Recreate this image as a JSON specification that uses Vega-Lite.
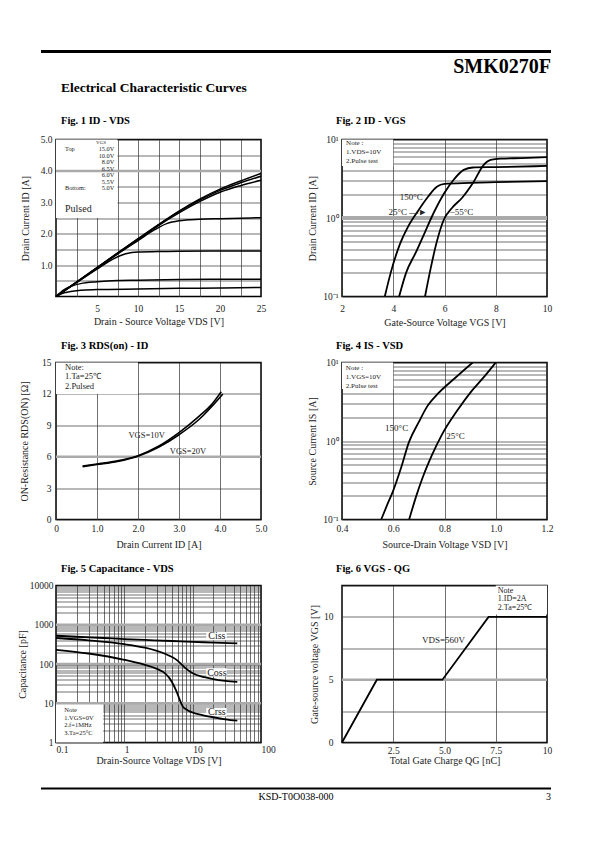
{
  "$schema": "https://vega.github.io/schema/vega-lite/v6.json",
  "background": "white",
  "padding": {"left": 16, "top": 49.5, "right": 10, "bottom": 10},
  "columns": 2,
  "spacing": {"row": 66, "column": 81},
  "bounds": "flush",
  "datasets": {
    "fig1": [
      {"s": "15.0V", "x": 0, "y": 0}, {"s": "15.0V", "x": 2.5, "y": 0.46}, {"s": "15.0V", "x": 5, "y": 0.92}, {"s": "15.0V", "x": 7.5, "y": 1.38}, {"s": "15.0V", "x": 10, "y": 1.84}, {"s": "15.0V", "x": 12.5, "y": 2.29}, {"s": "15.0V", "x": 15, "y": 2.72}, {"s": "15.0V", "x": 17.5, "y": 3.1}, {"s": "15.0V", "x": 20, "y": 3.42}, {"s": "15.0V", "x": 22.5, "y": 3.68}, {"s": "15.0V", "x": 25, "y": 3.92},
      {"s": "10.0V", "x": 0, "y": 0}, {"s": "10.0V", "x": 2.5, "y": 0.46}, {"s": "10.0V", "x": 5, "y": 0.92}, {"s": "10.0V", "x": 7.5, "y": 1.38}, {"s": "10.0V", "x": 10, "y": 1.83}, {"s": "10.0V", "x": 12.5, "y": 2.28}, {"s": "10.0V", "x": 15, "y": 2.7}, {"s": "10.0V", "x": 17.5, "y": 3.07}, {"s": "10.0V", "x": 20, "y": 3.38}, {"s": "10.0V", "x": 22.5, "y": 3.62}, {"s": "10.0V", "x": 25, "y": 3.83},
      {"s": "8.0V", "x": 0, "y": 0}, {"s": "8.0V", "x": 2.5, "y": 0.45}, {"s": "8.0V", "x": 5, "y": 0.91}, {"s": "8.0V", "x": 7.5, "y": 1.37}, {"s": "8.0V", "x": 10, "y": 1.82}, {"s": "8.0V", "x": 12.5, "y": 2.26}, {"s": "8.0V", "x": 15, "y": 2.66}, {"s": "8.0V", "x": 17.5, "y": 3.02}, {"s": "8.0V", "x": 20, "y": 3.32}, {"s": "8.0V", "x": 22.5, "y": 3.53}, {"s": "8.0V", "x": 25, "y": 3.7},
      {"s": "6.5V", "x": 0, "y": 0}, {"s": "6.5V", "x": 2.5, "y": 0.45}, {"s": "6.5V", "x": 5, "y": 0.9}, {"s": "6.5V", "x": 7.5, "y": 1.35}, {"s": "6.5V", "x": 10, "y": 1.78}, {"s": "6.5V", "x": 12, "y": 2.12}, {"s": "6.5V", "x": 13.5, "y": 2.32}, {"s": "6.5V", "x": 15, "y": 2.41}, {"s": "6.5V", "x": 17.5, "y": 2.46}, {"s": "6.5V", "x": 20, "y": 2.48}, {"s": "6.5V", "x": 25, "y": 2.51},
      {"s": "6.0V", "x": 0, "y": 0}, {"s": "6.0V", "x": 2.5, "y": 0.44}, {"s": "6.0V", "x": 5, "y": 0.87}, {"s": "6.0V", "x": 7, "y": 1.2}, {"s": "6.0V", "x": 8.5, "y": 1.36}, {"s": "6.0V", "x": 10, "y": 1.42}, {"s": "6.0V", "x": 12.5, "y": 1.43}, {"s": "6.0V", "x": 15, "y": 1.44}, {"s": "6.0V", "x": 20, "y": 1.45}, {"s": "6.0V", "x": 25, "y": 1.45},
      {"s": "5.5V", "x": 0, "y": 0}, {"s": "5.5V", "x": 1, "y": 0.22}, {"s": "5.5V", "x": 2, "y": 0.34}, {"s": "5.5V", "x": 3, "y": 0.41}, {"s": "5.5V", "x": 5, "y": 0.47}, {"s": "5.5V", "x": 7.5, "y": 0.51}, {"s": "5.5V", "x": 10, "y": 0.52}, {"s": "5.5V", "x": 15, "y": 0.54}, {"s": "5.5V", "x": 20, "y": 0.55}, {"s": "5.5V", "x": 25, "y": 0.55},
      {"s": "5.0V", "x": 0, "y": 0}, {"s": "5.0V", "x": 1, "y": 0.12}, {"s": "5.0V", "x": 2, "y": 0.17}, {"s": "5.0V", "x": 3, "y": 0.2}, {"s": "5.0V", "x": 5, "y": 0.22}, {"s": "5.0V", "x": 10, "y": 0.24}, {"s": "5.0V", "x": 15, "y": 0.26}, {"s": "5.0V", "x": 20, "y": 0.27}, {"s": "5.0V", "x": 25, "y": 0.29}
    ],
    "fig1box": [{"x": 0, "x2": 7.5, "y": 2.5, "y2": 5}],
    "fig1band": [{"x": 0, "x2": 25, "y": 4}],
    "fig1legL": [{"txt": "Top", "x": 1.1, "y": 4.7}, {"txt": "Bottom:", "x": 1.1, "y": 3.44}],
    "fig1legR": [{"txt": "15.0V", "x": 7.1, "y": 4.7}, {"txt": "10.0V", "x": 7.1, "y": 4.49}, {"txt": "8.0V", "x": 7.1, "y": 4.28}, {"txt": "6.5V", "x": 7.1, "y": 4.07}, {"txt": "6.0V", "x": 7.1, "y": 3.86}, {"txt": "5.5V", "x": 7.1, "y": 3.65}, {"txt": "5.0V", "x": 7.1, "y": 3.44}],
    "fig1legTop": [{"txt": "VGS", "x": 5.5, "y": 4.92}],
    "fig1pulsed": [{"txt": "Pulsed", "x": 1.1, "y": 2.8}],
    "fig2": [
      {"t": "150°C", "x": 3.67, "y": 0.1}, {"t": "150°C", "x": 3.9, "y": 0.2}, {"t": "150°C", "x": 4.26, "y": 0.465}, {"t": "150°C", "x": 4.6, "y": 0.8}, {"t": "150°C", "x": 4.98, "y": 1.25}, {"t": "150°C", "x": 5.35, "y": 1.85}, {"t": "150°C", "x": 5.7, "y": 2.5}, {"t": "150°C", "x": 6.0, "y": 2.72}, {"t": "150°C", "x": 7, "y": 2.8}, {"t": "150°C", "x": 8, "y": 2.86}, {"t": "150°C", "x": 10, "y": 2.95},
      {"t": "25°C", "x": 4.23, "y": 0.1}, {"t": "25°C", "x": 4.5, "y": 0.2}, {"t": "25°C", "x": 4.91, "y": 0.38}, {"t": "25°C", "x": 5.2, "y": 0.62}, {"t": "25°C", "x": 5.57, "y": 1.15}, {"t": "25°C", "x": 6.0, "y": 2.1}, {"t": "25°C", "x": 6.35, "y": 3.05}, {"t": "25°C", "x": 6.75, "y": 4.1}, {"t": "25°C", "x": 7.1, "y": 4.4}, {"t": "25°C", "x": 8, "y": 4.45}, {"t": "25°C", "x": 10, "y": 4.6},
      {"t": "-55°C", "x": 5.24, "y": 0.1}, {"t": "-55°C", "x": 5.45, "y": 0.22}, {"t": "-55°C", "x": 5.7, "y": 0.5}, {"t": "-55°C", "x": 5.96, "y": 0.93}, {"t": "-55°C", "x": 6.3, "y": 1.35}, {"t": "-55°C", "x": 6.68, "y": 1.8}, {"t": "-55°C", "x": 7.14, "y": 2.9}, {"t": "-55°C", "x": 7.53, "y": 4.76}, {"t": "-55°C", "x": 7.8, "y": 5.5}, {"t": "-55°C", "x": 8.2, "y": 5.7}, {"t": "-55°C", "x": 9, "y": 5.8}, {"t": "-55°C", "x": 10, "y": 5.95}
    ],
    "fig2box": [{"x": 2, "x2": 4, "y": 4.6, "y2": 10}],
    "fig2band": [{"x": 2, "x2": 10, "y": 1}],
    "fig2notes": [{"txt": "Note :", "x": 2.16, "y": 9.06}, {"txt": "1.VDS=10V", "x": 2.16, "y": 6.86}, {"txt": "2.Pulse test", "x": 2.16, "y": 5.25}],
    "fig2labC": [{"txt": "150°C", "x": 4.7, "y": 1.84}],
    "fig2labL": [{"txt": "25°C —►", "x": 3.81, "y": 1.19}, {"txt": "−55°C", "x": 6.2, "y": 1.19}],
    "fig3": [
      {"s": "VGS=10V", "x": 0.65, "y": 5.1}, {"s": "VGS=10V", "x": 1.0, "y": 5.3}, {"s": "VGS=10V", "x": 1.5, "y": 5.6}, {"s": "VGS=10V", "x": 2.0, "y": 6.1}, {"s": "VGS=10V", "x": 2.5, "y": 7.0}, {"s": "VGS=10V", "x": 3.0, "y": 8.3}, {"s": "VGS=10V", "x": 3.5, "y": 9.9}, {"s": "VGS=10V", "x": 3.8, "y": 11.0}, {"s": "VGS=10V", "x": 4.03, "y": 12.2},
      {"s": "VGS=20V", "x": 0.65, "y": 5.05}, {"s": "VGS=20V", "x": 1.0, "y": 5.25}, {"s": "VGS=20V", "x": 1.5, "y": 5.55}, {"s": "VGS=20V", "x": 2.0, "y": 6.05}, {"s": "VGS=20V", "x": 2.5, "y": 6.9}, {"s": "VGS=20V", "x": 3.0, "y": 8.1}, {"s": "VGS=20V", "x": 3.5, "y": 9.6}, {"s": "VGS=20V", "x": 3.8, "y": 10.8}, {"s": "VGS=20V", "x": 4.07, "y": 12.0}
    ],
    "fig3box": [{"x": 0, "x2": 2, "y": 12, "y2": 15}],
    "fig3band": [{"x": 0, "x2": 5, "y": 6}],
    "fig3notes": [{"txt": "Note:", "x": 0.22, "y": 14.55}, {"txt": "1.Ta=25℃", "x": 0.22, "y": 13.75}, {"txt": "2.Pulsed", "x": 0.22, "y": 12.8}],
    "fig3lab": [{"txt": "VGS=10V", "x": 2.21, "y": 8.09}, {"txt": "VGS=20V", "x": 3.22, "y": 6.5}],
    "fig4": [
      {"t": "150°C", "x": 0.553, "y": 0.1}, {"t": "150°C", "x": 0.575, "y": 0.15}, {"t": "150°C", "x": 0.598, "y": 0.225}, {"t": "150°C", "x": 0.63, "y": 0.45}, {"t": "150°C", "x": 0.662, "y": 0.98}, {"t": "150°C", "x": 0.7, "y": 1.75}, {"t": "150°C", "x": 0.732, "y": 2.74}, {"t": "150°C", "x": 0.776, "y": 4.06}, {"t": "150°C", "x": 0.84, "y": 6.3}, {"t": "150°C", "x": 0.91, "y": 10},
      {"t": "25°C", "x": 0.662, "y": 0.1}, {"t": "25°C", "x": 0.69, "y": 0.2}, {"t": "25°C", "x": 0.713, "y": 0.33}, {"t": "25°C", "x": 0.75, "y": 0.65}, {"t": "25°C", "x": 0.789, "y": 1.19}, {"t": "25°C", "x": 0.847, "y": 2.37}, {"t": "25°C", "x": 0.904, "y": 4.26}, {"t": "25°C", "x": 0.955, "y": 6.6}, {"t": "25°C", "x": 1.0, "y": 10}
    ],
    "fig4box": [{"x": 0.4, "x2": 0.6, "y": 4.6, "y2": 10}],
    "fig4notes": [{"txt": "Note :", "x": 0.415, "y": 8.55}, {"txt": "1.VGS=10V", "x": 0.415, "y": 6.49}, {"txt": "2.Pulse test", "x": 0.415, "y": 5.07}],
    "fig4lab": [{"txt": "150°C", "x": 0.613, "y": 1.45}, {"txt": "25°C", "x": 0.843, "y": 1.17}],
    "fig5": [
      {"c": "Ciss", "x": 0.1, "y": 525}, {"c": "Ciss", "x": 0.2, "y": 495}, {"c": "Ciss", "x": 0.5, "y": 460}, {"c": "Ciss", "x": 1, "y": 430}, {"c": "Ciss", "x": 2, "y": 410}, {"c": "Ciss", "x": 5, "y": 385}, {"c": "Ciss", "x": 10, "y": 368}, {"c": "Ciss", "x": 20, "y": 350}, {"c": "Ciss", "x": 45, "y": 335},
      {"c": "Coss", "x": 0.1, "y": 460}, {"c": "Coss", "x": 0.3, "y": 400}, {"c": "Coss", "x": 1, "y": 320}, {"c": "Coss", "x": 2, "y": 260}, {"c": "Coss", "x": 3, "y": 215}, {"c": "Coss", "x": 4, "y": 180}, {"c": "Coss", "x": 5, "y": 150}, {"c": "Coss", "x": 6, "y": 122}, {"c": "Coss", "x": 7, "y": 95}, {"c": "Coss", "x": 8, "y": 76}, {"c": "Coss", "x": 10, "y": 58}, {"c": "Coss", "x": 15, "y": 46}, {"c": "Coss", "x": 20, "y": 41}, {"c": "Coss", "x": 30, "y": 37}, {"c": "Coss", "x": 45, "y": 35},
      {"c": "Crss", "x": 0.1, "y": 230}, {"c": "Crss", "x": 0.3, "y": 185}, {"c": "Crss", "x": 1, "y": 128}, {"c": "Crss", "x": 2, "y": 95}, {"c": "Crss", "x": 3, "y": 75}, {"c": "Crss", "x": 3.7, "y": 63}, {"c": "Crss", "x": 4.6, "y": 43}, {"c": "Crss", "x": 5.2, "y": 30}, {"c": "Crss", "x": 5.8, "y": 20}, {"c": "Crss", "x": 6.5, "y": 12}, {"c": "Crss", "x": 7.2, "y": 8.2}, {"c": "Crss", "x": 8, "y": 7}, {"c": "Crss", "x": 9, "y": 6.2}, {"c": "Crss", "x": 12, "y": 5.3}, {"c": "Crss", "x": 20, "y": 4.4}, {"c": "Crss", "x": 30, "y": 3.9}, {"c": "Crss", "x": 45, "y": 3.6}
    ],
    "fig5box": [{"x": 0.1, "x2": 0.49, "y": 1, "y2": 9.7}, {"x": 15.8, "x2": 31.4, "y": 405, "y2": 657}, {"x": 15.8, "x2": 31.4, "y": 48, "y2": 78}, {"x": 15.8, "x2": 31.4, "y": 4.63, "y2": 7.56}],
    "fig5band": [{"x": 0.1, "x2": 100, "y": 10}, {"x": 0.1, "x2": 100, "y": 100}, {"x": 0.1, "x2": 100, "y": 1000}],
    "fig5notes": [{"txt": "Note", "x": 0.132, "y": 6.85}, {"txt": "1.VGS=0V", "x": 0.132, "y": 4.3}, {"txt": "2.f=1MHz", "x": 0.132, "y": 2.86}, {"txt": "3.Ta=25°C", "x": 0.132, "y": 1.79}],
    "fig5lab": [{"txt": "Ciss", "x": 22.6, "y": 510}, {"txt": "Coss", "x": 22.6, "y": 60}, {"txt": "Crss", "x": 22.6, "y": 5.85}],
    "fig6": [{"x": 0, "y": 0}, {"x": 1.7, "y": 5}, {"x": 4.9, "y": 5}, {"x": 7.15, "y": 10}, {"x": 10, "y": 10}],
    "fig6box": [{"x": 7.5, "x2": 10, "y": 10.2, "y2": 12.5}],
    "fig6band": [{"x": 0, "x2": 10, "y": 5}],
    "fig6notes": [{"txt": "Note", "x": 7.6, "y": 12.05}, {"txt": "1.ID=2A", "x": 7.6, "y": 11.39}, {"txt": "2.Ta=25℃", "x": 7.6, "y": 10.67}],
    "fig6lab": [{"txt": "VDS=560V", "x": 4.95, "y": 8.2}]
  },
  "concat": [
    {
      "width": 205, "height": 22,
      "view": {"stroke": null},
      "data": {"values": [{}]},
      "layer": [
        {"mark": {"type": "rule", "color": "black", "strokeWidth": 3},
         "encoding": {"x": {"datum": 0, "type": "quantitative", "scale": {"domain": [0, 1], "range": [-15, 495]}, "axis": null}, "x2": {"datum": 1}, "y": {"datum": 0, "type": "quantitative", "scale": {"domain": [0, 1], "range": [0, 40]}, "axis": null}}},
        {"mark": {"type": "text", "text": "Electrical Characteristic Curves", "font": "Liberation Serif", "fontWeight": "bold", "fontSize": 13.5, "align": "left", "baseline": "middle", "color": "black"},
         "encoding": {"x": {"datum": 0.039, "type": "quantitative", "axis": null}, "y": {"datum": 0.9, "type": "quantitative", "axis": null}}}
      ]
    },
    {
      "width": 205, "height": 22,
      "view": {"stroke": null},
      "data": {"values": [{}]},
      "mark": {"type": "text", "text": "SMK0270F", "font": "Liberation Serif", "fontWeight": "bold", "fontSize": 20, "align": "right", "baseline": "middle", "color": "black"},
      "encoding": {"x": {"datum": 1, "type": "quantitative", "scale": {"domain": [0, 1], "range": [0, 209]}, "axis": null}, "y": {"datum": 0.375, "type": "quantitative", "scale": {"domain": [0, 1], "range": [0, 40]}, "axis": null}}
    },
    {
      "width": 205, "height": 157,
      "title": {"text": "Fig. 1 ID  -  VDS", "dx": 5, "offset": 8},
      "encoding": {
        "x": {"field": "x", "type": "quantitative", "scale": {"domain": [0, 25], "nice": false, "zero": false},
              "axis": {"values": [2.5, 5, 7.5, 10, 12.5, 15, 17.5, 20, 22.5, 25], "labelExpr": "datum.value % 5 == 0 ? format(datum.value, 'd') : ''", "title": "Drain - Source Voltage  VDS [V]", "labelPadding": 7, "titlePadding": 3, "labelOverlap": false, "labelFlush": false, "labelBound": false}},
        "y": {"field": "y", "type": "quantitative", "scale": {"domain": [0, 5], "nice": false, "zero": false},
              "axis": {"values": [0.5, 1, 1.5, 2, 2.5, 3, 3.5, 4, 4.5, 5], "labelExpr": "datum.value % 1 == 0 ? format(datum.value, '.1f') : ''", "title": "Drain Current ID [A]", "labelPadding": 4, "titlePadding": 10, "labelOverlap": false, "labelFlush": false, "labelBound": false}}
      },
      "layer": [
        {"data": {"name": "fig1box"}, "mark": {"type": "rect", "color": "white"}, "encoding": {"x2": {"field": "x2"}, "y2": {"field": "y2"}}},
        {"data": {"name": "fig1band"}, "mark": {"type": "rule", "color": "#aaaaaa", "strokeWidth": 2.5}, "encoding": {"x2": {"field": "x2"}}},
        {"data": {"name": "fig1"}, "mark": {"type": "line", "color": "black", "strokeWidth": 1.5, "interpolate": "monotone"}, "encoding": {"detail": {"field": "s"}}},
        {"data": {"name": "fig1legL"}, "mark": {"type": "text", "align": "left", "baseline": "middle", "fontSize": 6.3}, "encoding": {"text": {"field": "txt"}}},
        {"data": {"name": "fig1legR"}, "mark": {"type": "text", "align": "right", "baseline": "middle", "fontSize": 6.3}, "encoding": {"text": {"field": "txt"}}},
        {"data": {"name": "fig1legTop"}, "mark": {"type": "text", "align": "center", "baseline": "middle", "fontSize": 5}, "encoding": {"text": {"field": "txt"}}},
        {"data": {"name": "fig1pulsed"}, "mark": {"type": "text", "align": "left", "baseline": "middle", "fontSize": 10}, "encoding": {"text": {"field": "txt"}}}
      ]
    },
    {
      "width": 205, "height": 157,
      "title": {"text": "Fig. 2 ID  -  VGS", "dx": -6, "offset": 8},
      "encoding": {
        "x": {"field": "x", "type": "quantitative", "scale": {"domain": [2, 10], "nice": false, "zero": false},
              "axis": {"values": [2, 4, 6, 8, 10], "title": "Gate-Source Voltage VGS [V]", "labelPadding": 7, "titlePadding": 4, "labelOverlap": false, "labelFlush": false, "labelBound": false}},
        "y": {"field": "y", "type": "quantitative", "scale": {"type": "log", "domain": [0.1, 10], "nice": false},
              "axis": {"values": [0.1, 0.2, 0.3, 0.4, 0.5, 0.6, 0.7, 0.8, 0.9, 1, 2, 3, 4, 5, 6, 7, 8, 9, 10], "labelExpr": "datum.value == 10 ? '10¹' : datum.value == 1 ? '10⁰' : datum.value == 0.1 ? '10⁻¹' : ''", "title": "Drain Current ID [A]", "labelPadding": 4, "titlePadding": 5, "labelOverlap": false, "labelFlush": false, "labelBound": false}}
      },
      "layer": [
        {"data": {"name": "fig2box"}, "mark": {"type": "rect", "color": "white"}, "encoding": {"x2": {"field": "x2"}, "y2": {"field": "y2"}}},
        {"data": {"name": "fig2band"}, "mark": {"type": "rule", "color": "#aaaaaa", "strokeWidth": 4}, "encoding": {"x2": {"field": "x2"}}},
        {"data": {"name": "fig2"}, "mark": {"type": "line", "color": "black", "strokeWidth": 1.8, "interpolate": "monotone", "clip": true}, "encoding": {"detail": {"field": "t"}}},
        {"data": {"name": "fig2notes"}, "mark": {"type": "text", "align": "left", "baseline": "middle", "fontSize": 7}, "encoding": {"text": {"field": "txt"}}},
        {"data": {"name": "fig2labC"}, "mark": {"type": "text", "align": "center", "baseline": "middle", "fontSize": 9}, "encoding": {"text": {"field": "txt"}}},
        {"data": {"name": "fig2labL"}, "mark": {"type": "text", "align": "left", "baseline": "middle", "fontSize": 9}, "encoding": {"text": {"field": "txt"}}}
      ]
    },
    {
      "width": 205, "height": 157,
      "title": {"text": "Fig. 3 RDS(on)  -  ID", "dx": 5, "offset": 6},
      "encoding": {
        "x": {"field": "x", "type": "quantitative", "scale": {"domain": [0, 5], "nice": false},
              "axis": {"values": [0, 1, 2, 3, 4, 5], "labelExpr": "datum.value == 0 ? '0' : format(datum.value, '.1f')", "title": "Drain Current ID [A]", "labelPadding": 4, "titlePadding": 6, "labelOverlap": false, "labelFlush": false, "labelBound": false}},
        "y": {"field": "y", "type": "quantitative", "scale": {"domain": [0, 15], "nice": false},
              "axis": {"values": [0, 3, 6, 9, 12, 15], "title": "ON-Resistance RDS(ON) [Ω]", "labelPadding": 5, "titlePadding": 12, "labelOverlap": false, "labelFlush": false, "labelBound": false}}
      },
      "layer": [
        {"data": {"name": "fig3box"}, "mark": {"type": "rect", "color": "white"}, "encoding": {"x2": {"field": "x2"}, "y2": {"field": "y2"}}},
        {"data": {"name": "fig3band"}, "mark": {"type": "rule", "color": "#aaaaaa", "strokeWidth": 2.5}, "encoding": {"x2": {"field": "x2"}}},
        {"data": {"name": "fig3"}, "mark": {"type": "line", "color": "black", "strokeWidth": 1.6, "interpolate": "monotone"}, "encoding": {"detail": {"field": "s"}}},
        {"data": {"name": "fig3notes"}, "mark": {"type": "text", "align": "left", "baseline": "middle", "fontSize": 8.5}, "encoding": {"text": {"field": "txt"}}},
        {"data": {"name": "fig3lab"}, "mark": {"type": "text", "align": "center", "baseline": "middle", "fontSize": 8.5}, "encoding": {"text": {"field": "txt"}}}
      ]
    },
    {
      "width": 205, "height": 157,
      "title": {"text": "Fig. 4 IS -  VSD", "dx": -6, "offset": 6},
      "encoding": {
        "x": {"field": "x", "type": "quantitative", "scale": {"domain": [0.4, 1.2], "nice": false, "zero": false},
              "axis": {"values": [0.4, 0.6, 0.8, 1.0, 1.2], "labelExpr": "format(datum.value, '.1f')", "title": "Source-Drain Voltage VSD [V]", "labelPadding": 4, "titlePadding": 6, "labelOverlap": false, "labelFlush": false, "labelBound": false}},
        "y": {"field": "y", "type": "quantitative", "scale": {"type": "log", "domain": [0.1, 10], "nice": false},
              "axis": {"values": [0.1, 0.2, 0.3, 0.4, 0.5, 0.6, 0.7, 0.8, 0.9, 1, 2, 3, 4, 5, 6, 7, 8, 9, 10], "labelExpr": "datum.value == 10 ? '10¹' : datum.value == 1 ? '10⁰' : datum.value == 0.1 ? '10⁻¹' : ''", "title": "Source Current IS [A]", "labelPadding": 4, "titlePadding": 5, "labelOverlap": false, "labelFlush": false, "labelBound": false}}
      },
      "layer": [
        {"data": {"name": "fig4box"}, "mark": {"type": "rect", "color": "white"}, "encoding": {"x2": {"field": "x2"}, "y2": {"field": "y2"}}},
        {"data": {"name": "fig4"}, "mark": {"type": "line", "color": "black", "strokeWidth": 1.8, "interpolate": "monotone", "clip": true}, "encoding": {"detail": {"field": "t"}}},
        {"data": {"name": "fig4notes"}, "mark": {"type": "text", "align": "left", "baseline": "middle", "fontSize": 7}, "encoding": {"text": {"field": "txt"}}},
        {"data": {"name": "fig4lab"}, "mark": {"type": "text", "align": "center", "baseline": "middle", "fontSize": 9}, "encoding": {"text": {"field": "txt"}}}
      ]
    },
    {
      "width": 205, "height": 157,
      "title": {"text": "Fig. 5 Capacitance - VDS", "dx": 5, "offset": 6},
      "encoding": {
        "x": {"field": "x", "type": "quantitative", "scale": {"type": "log", "domain": [0.1, 100], "nice": false},
              "axis": {"values": [0.1, 0.2, 0.3, 0.4, 0.5, 0.6, 0.7, 0.8, 0.9, 1, 2, 3, 4, 5, 6, 7, 8, 9, 10, 20, 30, 40, 50, 60, 70, 80, 90, 100], "labelExpr": "datum.value == 0.1 ? '0.1' : datum.value == 1 ? '1' : datum.value == 10 ? '10' : datum.value == 100 ? '100' : ''", "title": "Drain-Source Voltage VDS [V]", "labelAlign": "left", "labelPadding": 2, "titlePadding": 1, "labelOverlap": false, "labelFlush": false, "labelBound": false}},
        "y": {"field": "y", "type": "quantitative", "scale": {"type": "log", "domain": [1, 10000], "nice": false},
              "axis": {"values": [1, 2, 3, 4, 5, 6, 7, 8, 9, 10, 20, 30, 40, 50, 60, 70, 80, 90, 100, 200, 300, 400, 500, 600, 700, 800, 900, 1000, 2000, 3000, 4000, 5000, 6000, 7000, 8000, 9000, 10000], "labelExpr": "datum.value == 1 ? '1' : datum.value == 10 ? '10' : datum.value == 100 ? '100' : datum.value == 1000 ? '1000' : datum.value == 10000 ? '10000' : ''", "title": "Capacitance [pF]", "labelPadding": 3, "titlePadding": 2, "labelOverlap": false, "labelFlush": false, "labelBound": false}}
      },
      "layer": [
        {"data": {"name": "fig5box"}, "mark": {"type": "rect", "color": "white"}, "encoding": {"x2": {"field": "x2"}, "y2": {"field": "y2"}}},
        {"data": {"name": "fig5band"}, "mark": {"type": "rule", "color": "#aaaaaa", "strokeWidth": 2.5}, "encoding": {"x2": {"field": "x2"}}},
        {"data": {"name": "fig5"}, "mark": {"type": "line", "color": "black", "strokeWidth": 1.8, "interpolate": "monotone", "clip": true}, "encoding": {"detail": {"field": "c"}}},
        {"data": {"name": "fig5notes"}, "mark": {"type": "text", "align": "left", "baseline": "middle", "fontSize": 6.5}, "encoding": {"text": {"field": "txt"}}},
        {"data": {"name": "fig5lab"}, "mark": {"type": "text", "align": "center", "baseline": "middle", "fontSize": 10}, "encoding": {"text": {"field": "txt"}}}
      ]
    },
    {
      "width": 205, "height": 157,
      "title": {"text": "Fig. 6 VGS  -  QG", "dx": -6, "offset": 6},
      "encoding": {
        "x": {"field": "x", "type": "quantitative", "scale": {"domain": [0, 10], "nice": false},
              "axis": {"values": [2.5, 5, 7.5, 10], "labelExpr": "datum.value == 10 ? '10' : format(datum.value, '.1f')", "title": "Total Gate Charge QG [nC]", "labelPadding": 3, "titlePadding": 0, "labelOverlap": false, "labelFlush": false, "labelBound": false}},
        "y": {"field": "y", "type": "quantitative", "scale": {"domain": [0, 12.5], "nice": false},
              "axis": {"values": [0, 2.5, 5, 7.5, 10, 12.5], "labelExpr": "datum.value % 5 == 0 ? format(datum.value, 'd') : ''", "title": "Gate-source voltage VGS [V]", "labelPadding": 9, "titlePadding": 4, "labelOverlap": false, "labelFlush": false, "labelBound": false}}
      },
      "layer": [
        {"data": {"name": "fig6box"}, "mark": {"type": "rect", "color": "white"}, "encoding": {"x2": {"field": "x2"}, "y2": {"field": "y2"}}},
        {"data": {"name": "fig6band"}, "mark": {"type": "rule", "color": "#aaaaaa", "strokeWidth": 2.5}, "encoding": {"x2": {"field": "x2"}}},
        {"data": {"name": "fig6"}, "mark": {"type": "line", "color": "black", "strokeWidth": 1.8}, "encoding": {}},
        {"data": {"name": "fig6notes"}, "mark": {"type": "text", "align": "left", "baseline": "middle", "fontSize": 8}, "encoding": {"text": {"field": "txt"}}},
        {"data": {"name": "fig6lab"}, "mark": {"type": "text", "align": "center", "baseline": "middle", "fontSize": 9}, "encoding": {"text": {"field": "txt"}}}
      ]
    },
    {
      "width": 205, "height": 10,
      "view": {"stroke": null},
      "data": {"values": [{}]},
      "layer": [
        {"mark": {"type": "rule", "color": "black", "strokeWidth": 2},
         "encoding": {"x": {"datum": 0, "type": "quantitative", "scale": {"domain": [0, 1], "range": [-15, 495]}, "axis": null}, "x2": {"datum": 1}, "y": {"datum": 0, "type": "quantitative", "scale": {"domain": [0, 1], "range": [-20, 0]}, "axis": null}}},
        {"mark": {"type": "text", "text": "KSD-T0O038-000", "font": "Liberation Serif", "fontSize": 10, "align": "center", "baseline": "middle", "color": "black"},
         "encoding": {"x": {"datum": 0.5, "type": "quantitative", "axis": null}, "y": {"datum": 0.4, "type": "quantitative", "axis": null}}}
      ]
    },
    {
      "width": 205, "height": 10,
      "view": {"stroke": null},
      "data": {"values": [{}]},
      "mark": {"type": "text", "text": "3", "font": "Liberation Serif", "fontSize": 10, "align": "right", "baseline": "middle", "color": "black"},
      "encoding": {"x": {"datum": 1, "type": "quantitative", "scale": {"domain": [0, 1], "range": [0, 209]}, "axis": null}, "y": {"datum": 0.4, "type": "quantitative", "scale": {"domain": [0, 1], "range": [-20, 0]}, "axis": null}}
    }
  ],
  "config": {
    "font": "Liberation Serif",
    "view": {"stroke": "black", "strokeWidth": 1.5},
    "axis": {"domain": false, "ticks": false, "grid": true, "gridColor": "#333333", "gridWidth": 0.7, "labelFont": "Liberation Serif", "labelFontSize": 9.5, "labelColor": "#222222", "titleFont": "Liberation Serif", "titleFontSize": 10, "titleFontWeight": "normal", "titleColor": "#222222", "labelFlush": false, "labelOverlap": false, "labelBound": false},
    "title": {"font": "Liberation Serif", "fontSize": 10.5, "fontWeight": "bold", "anchor": "start", "frame": "group", "color": "black"},
    "text": {"font": "Liberation Serif", "color": "#222222"}
  }
}
